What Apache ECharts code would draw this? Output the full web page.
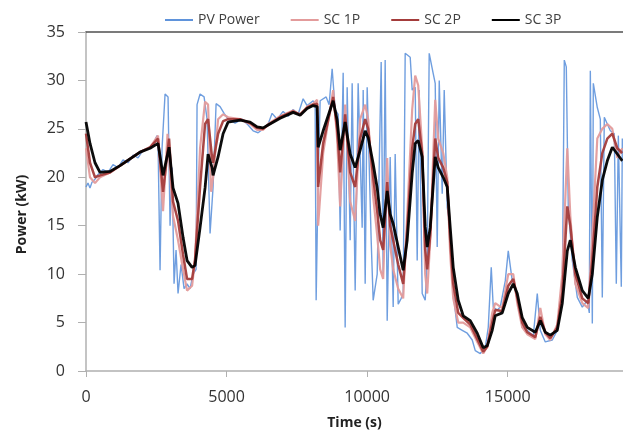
<!DOCTYPE html>
<html>
<head>
<meta charset="utf-8">
<script src="https://cdn.jsdelivr.net/npm/echarts@6/dist/echarts.min.js"></script>
<style>html,body{margin:0;padding:0;background:#fff}#c{width:623px;height:435px}</style>
</head>
<body>
<div id="c"></div>
<script>
var seriesNames = ['PV Power', 'SC 1P', 'SC 2P', 'SC 3P'];
var xTicks = [0, 5000, 10000, 15000];
var yTicks = [0, 5, 10, 15, 20, 25, 30, 35];

var pvPower = [
[0,19.0],[71,19.4],[142,18.9],[214,19.5],[320,19.8],[427,20.3],[605,20.8],[783,20.5],[961,21.3],[1139,21.0],
[1317,21.8],[1495,21.5],[1673,22.3],[1851,22.0],[2029,22.8],[2207,23.0],[2385,23.4],[2527,24.3],[2562,23.6],[2634,10.4],
[2705,23.0],[2812,28.6],[2918,28.3],[2990,15.0],[3061,21.0],[3132,9.0],[3203,12.5],[3274,8.0],[3381,11.0],[3488,8.5],
[3595,9.0],[3701,8.5],[3808,10.0],[3915,10.5],[3950,27.5],[4057,28.6],[4200,28.3],[4306,26.0],[4413,14.2],[4520,19.0],
[4627,27.6],[4769,27.3],[4911,26.6],[5054,26.0],[5303,25.6],[5552,26.0],[5766,25.4],[5944,24.8],[6122,24.6],[6300,25.0],
[6478,25.5],[6620,26.6],[6798,26.0],[7011,26.8],[7189,26.3],[7367,27.0],[7545,26.5],[7723,28.1],[7865,27.4],[8079,27.9],
[8150,27.5],[8186,7.3],[8257,20.0],[8328,27.9],[8542,28.3],[8648,27.5],[8755,31.2],[8862,27.0],[8969,26.5],[9040,14.5],
[9147,30.8],[9218,4.5],[9289,29.3],[9396,13.5],[9467,29.7],[9574,8.3],[9680,29.7],[9823,14.8],[9859,29.0],[9930,9.0],
[10001,29.3],[10143,13.5],[10214,7.3],[10357,10.0],[10499,31.9],[10570,10.0],[10641,32.1],[10713,5.2],[10819,22.1],[10926,6.6],
[10997,22.4],[11104,6.9],[11211,7.5],[11282,8.0],[11353,32.8],[11531,32.4],[11602,29.0],[11709,29.3],[11780,11.4],[11851,29.0],
[11958,8.0],[12065,7.3],[12136,11.4],[12207,32.8],[12350,30.7],[12421,29.7],[12492,12.8],[12564,30.0],[12670,18.3],[12741,29.0],
[12848,16.9],[12955,14.8],[13062,8.0],[13204,4.5],[13382,4.2],[13560,3.9],[13738,3.2],[13845,2.1],[14023,1.8],[14201,2.4],
[14307,4.5],[14414,10.7],[14485,6.6],[14627,6.3],[14734,6.6],[14912,9.3],[15019,12.4],[15161,9.3],[15268,8.7],[15375,6.6],
[15517,4.5],[15695,4.2],[15909,3.6],[16051,8.0],[16158,4.2],[16336,3.0],[16585,3.2],[16763,4.2],[16941,8.0],[17012,32.1],
[17083,31.4],[17154,16.9],[17297,11.4],[17475,7.6],[17653,6.6],[17831,7.3],[17902,6.0],[17938,31.0],[18009,4.9],[18044,29.7],
[18186,27.2],[18293,26.0],[18364,7.6],[18435,26.2],[18649,24.8],[18791,24.5],[18862,9.0],[18934,24.3],[19040,8.7],[19076,24.0]
];

var sc1p = [
[0,23.0],[142,20.0],[320,19.4],[498,20.0],[854,20.5],[1210,21.2],[1566,21.9],[1922,22.6],[2278,23.1],[2562,24.3],
[2740,16.5],[2900,24.5],[3096,16.0],[3274,13.5],[3452,10.5],[3595,8.3],[3773,8.8],[3879,11.5],[4057,23.0],[4235,27.8],
[4342,27.5],[4450,18.5],[4520,20.0],[4698,26.0],[4876,26.5],[5054,26.2],[5481,26.0],[5837,25.5],[6086,24.9],[6300,24.9],
[6478,25.5],[6904,26.3],[7367,26.9],[7616,26.4],[7865,27.3],[8079,27.6],[8221,28.0],[8257,15.0],[8435,22.5],[8791,29.0],
[8933,24.0],[9040,17.0],[9218,27.5],[9396,17.5],[9574,15.5],[9751,26.0],[9930,27.5],[10036,26.0],[10214,18.0],[10357,14.0],
[10463,10.5],[10570,9.5],[10713,22.0],[10819,13.0],[10926,10.5],[11104,8.5],[11282,7.5],[11424,16.0],[11602,27.0],[11709,30.5],
[11816,29.5],[11958,23.0],[12065,10.0],[12136,8.0],[12243,13.5],[12421,28.0],[12528,24.0],[12706,22.5],[12848,20.0],[12955,12.0],
[13062,7.5],[13239,5.0],[13417,5.0],[13667,4.5],[13916,3.0],[14129,1.8],[14271,2.5],[14449,6.0],[14556,7.0],[14805,6.5],
[15019,10.0],[15197,10.0],[15339,7.0],[15517,4.5],[15695,3.8],[15980,3.3],[16158,6.5],[16336,3.8],[16514,3.2],[16763,4.8],
[16941,10.0],[17119,23.0],[17226,16.0],[17404,9.0],[17653,7.0],[17866,6.5],[18009,14.0],[18186,24.0],[18364,25.0],[18542,25.5],
[18720,25.0],[18898,22.0],[19076,23.0]
];

var sc2p = [
[0,24.5],[142,21.5],[320,20.0],[498,20.2],[854,20.5],[1210,21.2],[1566,21.9],[1922,22.6],[2278,23.1],[2562,24.0],
[2740,18.5],[2954,24.0],[3096,17.5],[3274,15.5],[3452,12.0],[3595,9.5],[3773,9.5],[3879,11.5],[4057,19.0],[4235,25.5],
[4342,26.0],[4484,22.0],[4520,21.5],[4698,24.5],[4876,25.8],[5054,26.0],[5481,26.0],[5837,25.6],[6086,25.1],[6300,25.0],
[6478,25.4],[6904,26.2],[7367,26.8],[7616,26.5],[7865,27.2],[8079,27.5],[8221,27.6],[8257,19.0],[8435,23.5],[8791,28.3],
[8933,25.0],[9040,20.5],[9218,26.5],[9396,20.5],[9574,19.0],[9751,24.0],[9930,26.0],[10036,25.0],[10214,20.0],[10357,16.5],
[10463,13.5],[10570,12.5],[10713,19.5],[10819,15.0],[10926,13.5],[11104,11.0],[11282,9.0],[11424,14.5],[11602,23.0],[11709,25.5],
[11816,26.0],[11958,22.5],[12065,12.5],[12136,10.5],[12243,14.0],[12421,24.0],[12528,22.0],[12706,21.0],[12848,19.5],[12955,13.5],
[13062,9.0],[13239,6.0],[13417,5.5],[13667,4.8],[13916,3.3],[14129,2.0],[14271,2.5],[14449,5.0],[14556,6.3],[14805,6.2],
[15019,8.8],[15197,9.5],[15339,7.6],[15517,5.0],[15695,4.0],[15980,3.5],[16158,5.6],[16336,4.0],[16514,3.4],[16763,4.5],
[16941,8.0],[17119,17.0],[17226,15.0],[17404,10.0],[17653,7.5],[17866,7.0],[18009,11.5],[18186,19.0],[18364,22.5],[18542,24.0],
[18720,24.5],[18898,23.0],[19076,22.5]
];

var sc3p = [
[0,25.7],[142,23.5],[320,21.5],[498,20.5],[854,20.6],[1210,21.2],[1566,21.9],[1922,22.6],[2278,23.0],[2562,23.5],
[2740,20.2],[2954,23.1],[3096,18.9],[3274,17.3],[3452,13.8],[3595,11.4],[3773,10.7],[3879,10.9],[4057,14.8],[4235,18.9],
[4342,22.4],[4484,21.0],[4520,20.2],[4698,22.1],[4876,24.5],[5054,25.7],[5481,25.9],[5837,25.7],[6086,25.2],[6300,25.1],
[6478,25.4],[6904,26.1],[7367,26.7],[7616,26.4],[7865,27.1],[8079,27.4],[8221,27.3],[8257,23.1],[8435,24.8],[8791,27.9],
[8933,25.9],[9040,22.8],[9218,25.7],[9396,22.4],[9574,21.0],[9751,22.8],[9930,24.8],[10036,24.1],[10214,21.4],[10357,18.9],
[10463,16.2],[10570,14.8],[10713,18.6],[10819,16.2],[10926,15.2],[11104,12.8],[11282,10.4],[11424,13.5],[11602,20.4],[11709,23.5],
[11816,23.8],[11958,22.1],[12065,14.9],[12136,12.8],[12243,14.8],[12421,22.1],[12528,21.0],[12706,20.0],[12848,19.0],[12955,14.8],
[13062,10.7],[13239,7.3],[13417,5.7],[13667,5.2],[13916,3.9],[14129,2.4],[14271,2.6],[14449,4.2],[14556,5.7],[14805,6.0],
[15019,8.0],[15197,9.0],[15339,8.0],[15517,5.5],[15695,4.5],[15980,4.0],[16158,5.2],[16336,4.0],[16514,3.7],[16763,4.2],
[16941,7.0],[17119,12.4],[17226,13.5],[17404,10.7],[17653,8.3],[17866,7.5],[18009,10.0],[18186,15.9],[18364,19.7],[18542,21.7],
[18720,23.1],[18898,22.4],[19076,21.7]
];

var colors = ['#5F93DB', '#E39B9B', '#A43C3B', '#000000'];
var widths = [1.4, 2.2, 2.5, 2.8];
var dataSets = [pvPower, sc1p, sc2p, sc3p];

var font = 'Open Sans';
var chart = echarts.init(document.getElementById('c'), null, {renderer: 'canvas'});
chart.setOption({
  animation: false,
  backgroundColor: '#ffffff',
  grid: {left: 86, top: 32, right: 0, bottom: 64, containLabel: false},
  legend: {
    data: seriesNames,
    left: 160, top: 8,
    icon: 'rect', itemWidth: 28, itemHeight: 2, itemGap: 31,
    textStyle: {fontFamily: font, fontSize: 14, color: '#404040'}
  },
  xAxis: [{
    type: 'value', min: xTicks[0], max: 19100, interval: xTicks[1] - xTicks[0],
    name: 'Time (s)', nameLocation: 'middle', nameGap: 45,
    nameTextStyle: {fontFamily: font, fontSize: 14, fontWeight: 'bold', color: '#222'},
    axisLine: {show: true, lineStyle: {color: '#B0B0B0', width: 1.5}},
    axisTick: {show: true, inside: false, length: 6, lineStyle: {color: '#B0B0B0', width: 1}},
    axisLabel: {fontFamily: font, fontSize: 16, color: '#333', margin: 18, showMaxLabel: false,
      formatter: function (v) { return xTicks.indexOf(v) >= 0 ? String(v) : ''; }},
    splitLine: {show: false}
  }, {
    type: 'value', position: 'top', min: 0, max: 19100,
    axisLine: {show: true, onZero: false, lineStyle: {color: '#505050', width: 1.5}},
    axisTick: {show: false}, axisLabel: {show: false}, splitLine: {show: false}
  }],
  yAxis: {
    type: 'value', min: yTicks[0], max: yTicks[yTicks.length - 1], interval: yTicks[1] - yTicks[0],
    name: 'Power (kW)', nameLocation: 'middle', nameGap: 57, nameRotate: 90,
    nameTextStyle: {fontFamily: font, fontSize: 14, fontWeight: 'bold', color: '#222', padding: [0, 26, 0, 0]},
    axisLine: {show: true, lineStyle: {color: '#B0B0B0', width: 1.5}},
    axisTick: {show: true, inside: false, length: 8, lineStyle: {color: '#B0B0B0', width: 1}},
    axisLabel: {fontFamily: font, fontSize: 16, color: '#333', margin: 21},
    splitLine: {show: false}
  },
  series: seriesNames.map(function (n, i) {
    return {
      name: n, type: 'line', data: dataSets[i], showSymbol: false, symbol: 'none',
      xAxisIndex: 0, z: 2 + i,
      lineStyle: {color: colors[i], width: widths[i], opacity: i === 0 ? 0.9 : 0.95},
      itemStyle: {color: colors[i]}
    };
  })
});
</script>
</body>
</html>
